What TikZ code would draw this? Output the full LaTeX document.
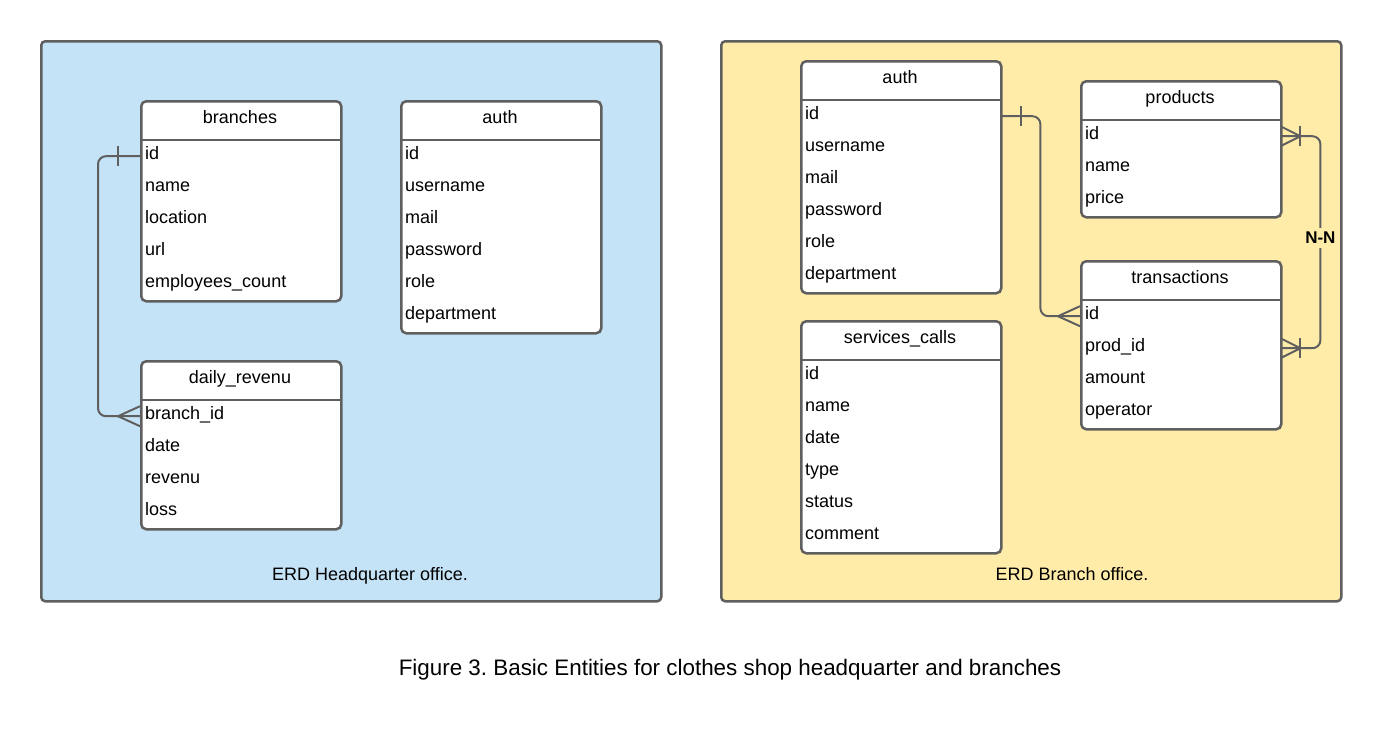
\documentclass[tikz,border=0pt]{standalone}
\usepackage{fontspec}
\setmainfont{Liberation Sans}
\usetikzlibrary{calc}
\frenchspacing
\definecolor{lc}{HTML}{5F5F5F}
\definecolor{hqblue}{HTML}{C5E3F6}
\definecolor{bryellow}{HTML}{FFECA8}
\tikzset{
 panel/.style={draw=lc, line width=2.5pt, rounded corners=4pt, anchor=north west, inner sep=0},
 tbl/.style={draw=lc, line width=2.5pt, rounded corners=5pt, fill=white, anchor=north west, inner sep=0, minimum width=200pt},
 hdr/.style={font=\fontsize{18}{21}\selectfont, anchor=base, inner sep=0},
 row/.style={font=\fontsize{18}{21}\selectfont, anchor=north west, minimum width=200pt, minimum height=32pt, inner xsep=5pt, inner ysep=0pt, text width=190pt, align=left, text height=11pt, text depth=5pt},
 conn/.style={draw=lc, line width=2pt},
 lbl/.style={font=\fontsize{18}{21}\selectfont, anchor=base, inner sep=0},
 nnlabel/.style={font=\bfseries\fontsize{17}{20}\selectfont, fill=bryellow, inner xsep=2pt, inner ysep=4pt},
}
\newcommand\erdtable[5]{%
  \foreach \r [count=\i] in {#5} {\xdef\erdrows{\i}}%
  \node[tbl, minimum height={40+32*\erdrows}] (#1) at (#2,#3) {};
  \node[hdr] (#1-h) at (#2+100,#3+23) {#4};
  \draw[lc, line width=2.5pt] (#2,#3+40) -- (#2+200,#3+40);
  \foreach \r [count=\i] in {#5} {\node[row] (#1-\i) at (#2,{#3+40+32*(\i-1)}) {\r};}
}
\begin{document}
\begin{tikzpicture}[x=1pt,y=-1pt]
\useasboundingbox[fill=white] (0,0) rectangle (1380,740);
% panels
\node[panel, fill=hqblue, minimum width=620pt, minimum height=560pt] (hq) at (40,40) {};
\node[panel, fill=bryellow, minimum width=620pt, minimum height=560pt] (br) at (720,40) {};
\node[lbl] (hqlbl) at (370,580) {ERD Headquarter office.};
\node[lbl] (brlbl) at (1072,580) {ERD Branch office.};
% tables
\erdtable{branches}{140}{100}{branches}{id,name,location,url,employees\_count}
\erdtable{authA}{400}{100}{auth}{id,username,mail,password,role,department}
\erdtable{daily}{140}{360}{daily\_revenu}{branch\_id,date,revenu,loss}
\erdtable{authB}{800}{60}{auth}{id,username,mail,password,role,department}
\erdtable{calls}{800}{320}{services\_calls}{id,name,date,type,status,comment}
\erdtable{prod}{1080}{80}{products}{id,name,price}
\erdtable{trans}{1080}{260}{transactions}{id,prod\_id,amount,operator}
% connectors
\draw[conn, rounded corners=8pt] (branches-1.west) -- ++(-42,0) |- (daily-1.west);
\draw[conn] ($(branches-1.west)+(-22,-10)$) -- ++(0,20);
\draw[conn] ($(daily-1.west)+(-22,0)$) -- ($(daily-1.west)+(0,-10)$)
            ($(daily-1.west)+(-22,0)$) -- ($(daily-1.west)+(0,10)$);

\draw[conn, rounded corners=8pt] (authB-1.east) -- ++(40,0) |- (trans-1.west);
\draw[conn] ($(authB-1.east)+(21,-10)$) -- ++(0,20);
\draw[conn] ($(trans-1.west)+(-22,0)$) -- ($(trans-1.west)+(0,-10)$)
            ($(trans-1.west)+(-22,0)$) -- ($(trans-1.west)+(0,10)$);

\draw[conn, rounded corners=8pt] (prod-1.east) -- ++(40,0) |- node[pos=0.24, nnlabel] (nn) {N-N} (trans-2.east);
\draw[conn] ($(prod-1.east)+(20,-10)$) -- ++(0,20);
\draw[conn] ($(prod-1.east)+(20,0)$) -- ($(prod-1.east)+(0,-10)$)
            ($(prod-1.east)+(20,0)$) -- ($(prod-1.east)+(0,10)$);
\draw[conn] ($(trans-2.east)+(20,-10)$) -- ++(0,20);
\draw[conn] ($(trans-2.east)+(20,0)$) -- ($(trans-2.east)+(0,-10)$)
            ($(trans-2.east)+(20,0)$) -- ($(trans-2.east)+(0,10)$);
% caption
\node[font=\fontsize{22.4}{26}\selectfont, anchor=base, inner sep=0] (cap) at (730,675) {Figure 3. Basic Entities for clothes shop headquarter and branches};
\end{tikzpicture}
\end{document}
